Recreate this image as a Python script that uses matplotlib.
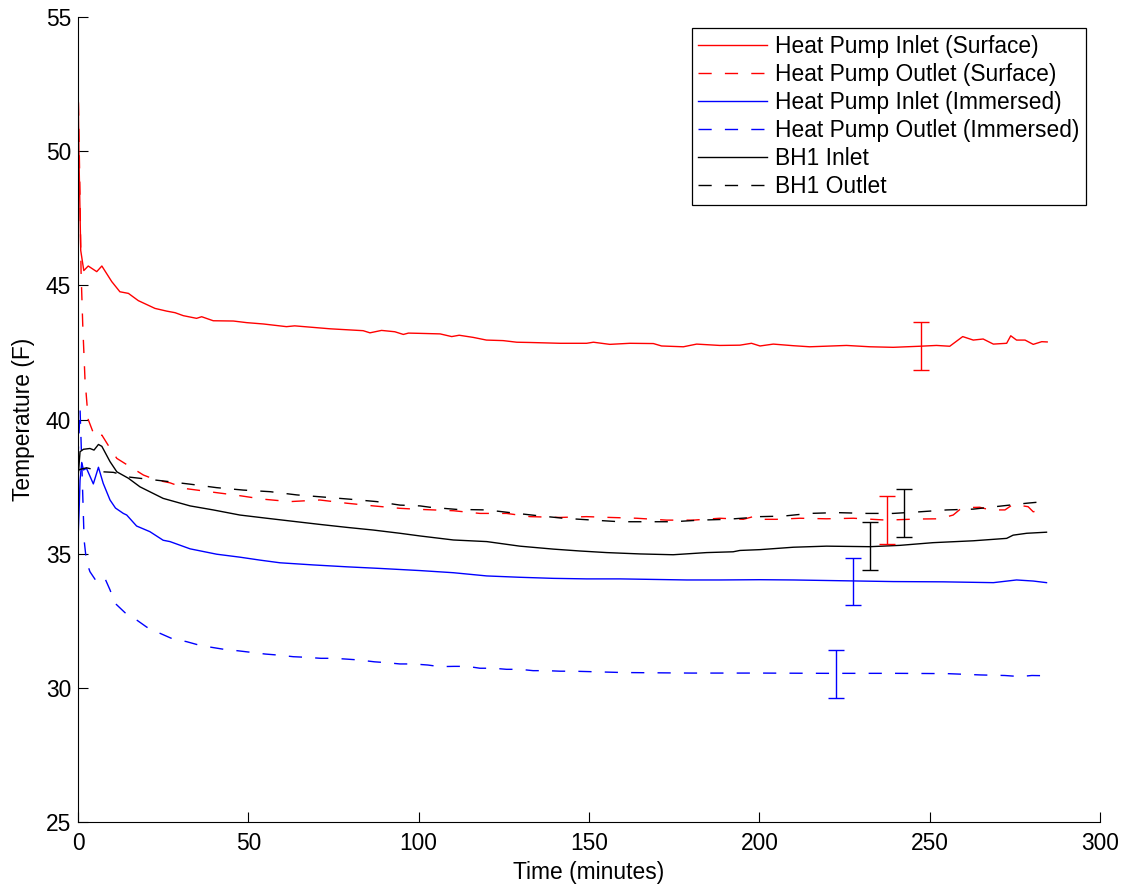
import matplotlib
matplotlib.use("Agg")
import matplotlib.pyplot as plt

plt.rcParams['font.family'] = ['Liberation Sans', 'DejaVu Sans']

# ---- data (time in minutes, temperature in F) ----
hp_in_surf = [(0,52.8),(0.3,49.7),(0.8,46.3),(1.7,45.55),(3.0,45.72),(5.5,45.51),(7.0,45.72),(9.9,45.14),
    (12.3,44.76),(14.8,44.70),(17.7,44.43),(22.6,44.14),(26.0,44.04),(28.5,43.98),(30.9,43.87),(34.8,43.77),
    (36.3,43.83),(39.7,43.68),(45.6,43.67),(49.5,43.61),(54.4,43.56),(61.2,43.46),(63.6,43.49),(74.0,43.38),
    (83.7,43.31),(85.7,43.23),(89.1,43.32),(93.0,43.27),(95.5,43.17),(97.0,43.22),(100.4,43.21),(106.3,43.19),
    (109.7,43.09),(111.9,43.14),(116.0,43.06),(119.9,42.96),(124.8,42.94),(128.8,42.88),(132.7,42.87),
    (141.5,42.84),(149.3,42.84),(151.3,42.88),(156.1,42.80),(162.0,42.84),(168.9,42.83),(171.3,42.74),
    (177.7,42.71),(181.6,42.81),(188.4,42.76),(194.3,42.77),(197.7,42.84),(200.2,42.74),(204.1,42.81),
    (210.0,42.75),(214.8,42.71),(225.6,42.76),(232.5,42.71),(239.3,42.69),(247.1,42.73),(252.0,42.76),
    (255.9,42.73),(259.7,43.09),(262.8,42.96),(265.7,43.0),(268.7,42.81),(272.6,42.84),(273.8,43.12),
    (275.5,42.96),(278.0,42.96),(280.4,42.80),(282.9,42.90),(284.5,42.89)]

hp_out_surf = [(0,52.8),(0.5,49.0),(0.9,45.5),(1.4,43.5),(2.05,41.5),(3.0,40.0),(4.5,39.5),(6.0,39.3),
    (7.0,39.42),(9.4,38.93),(11.4,38.55),(15.3,38.24),(19.2,37.93),(23.1,37.74),(27.0,37.64),(31.9,37.42),
    (39.7,37.29),(47.0,37.17),(54.4,37.03),(62.2,36.94),(71.0,37.0),(78.9,36.88),(86.7,36.78),(94.5,36.69),
    (100.4,36.65),(110.2,36.60),(118.0,36.50),(125.8,36.50),(132.7,36.38),(141.5,36.35),(149.3,36.38),
    (156.1,36.35),(164.0,36.32),(172.8,36.25),(180.6,36.25),(188.4,36.32),(195.3,36.28),(198.2,36.38),
    (200.2,36.28),(205.1,36.28),(211.9,36.32),(219.7,36.30),(227.6,36.32),(237.4,36.25),(246.1,36.29),
    (253.0,36.30),(256.9,36.44),(258.9,36.65),(262.0,36.72),(264.7,36.73),(267.7,36.63),(272.1,36.63),
    (274.5,36.84),(278.9,36.75),(280.4,36.56),(282.4,36.63),(284.5,36.60)]

hp_in_imm = [(0,35.5),(0.3,36.5),(0.6,37.74),(1.1,38.4),(1.6,38.12),(2.5,38.18),(4.5,37.6),(6.0,38.22),
    (7.4,37.62),(9.4,37.0),(11.0,36.7),(13.3,36.5),(14.3,36.44),(17.2,36.03),(21.1,35.82),(25.0,35.5),
    (27.0,35.45),(32.9,35.18),(40.7,34.98),(47.5,34.87),(53.4,34.76),(59.3,34.66),(69.1,34.58),(78.9,34.51),
    (88.6,34.45),(100.4,34.37),(110.2,34.29),(120.0,34.17),(129.7,34.12),(139.5,34.08),(149.3,34.06),
    (159.1,34.06),(168.9,34.04),(178.7,34.02),(188.4,34.02),(200.2,34.03),(210.0,34.02),(224.6,33.99),
    (239.3,33.96),(254.0,33.95),(268.7,33.92),(275.5,34.02),(280.4,33.98),(284.3,33.92)]

hp_out_imm = [(0,38.5),(0.6,40.4),(1.2,38.0),(1.8,35.5),(2.5,34.7),(3.5,34.33),(5.5,33.95),(7.9,34.08),
    (9.4,33.65),(10.9,33.15),(13.8,32.8),(17.2,32.53),(20.2,32.26),(24.1,32.03),(27.5,31.84),(31.9,31.72),
    (35.3,31.6),(39.2,31.51),(43.1,31.43),(47.0,31.38),(51.0,31.32),(54.9,31.26),(58.8,31.22),(63.2,31.16),
    (66.6,31.14),(71.3,31.10),(75.2,31.10),(78.9,31.07),(82.3,31.04),(87.0,30.97),(90.3,30.94),(94.5,30.89),
    (98.4,30.89),(102.7,30.85),(106.2,30.79),(110.4,30.80),(114.3,30.80),(118.0,30.73),(121.9,30.73),
    (125.8,30.69),(129.7,30.69),(133.6,30.64),(137.6,30.64),(141.5,30.62),(145.4,30.62),(160,30.57),
    (180,30.55),(200,30.55),(220,30.54),(240,30.54),(255,30.53),(265,30.48),(272,30.46),(276.5,30.42),
    (280,30.46),(284.5,30.45)]

bh1_in = [(0,37.8),(0.6,38.8),(1.6,38.89),(3.5,38.92),(4.7,38.86),(6.0,39.07),(7.0,39.0),(9.4,38.43),
    (11.4,38.05),(14.8,37.81),(18.2,37.49),(25.0,37.06),(32.9,36.78),(39.7,36.63),(47.5,36.44),(55.4,36.32),
    (64.2,36.19),(71.0,36.09),(78.9,35.98),(86.7,35.88),(94.5,35.76),(100.4,35.66),(110.2,35.51),
    (120.0,35.45),(129.7,35.28),(139.5,35.17),(147.3,35.10),(155.2,35.04),(165.0,34.99),(174.7,34.96),
    (184.5,35.04),(192.3,35.07),(194.3,35.12),(200.2,35.15),(210.0,35.24),(219.7,35.28),(232.5,35.26),
    (241.3,35.31),(251.0,35.41),(262.8,35.48),(272.6,35.57),(274.5,35.69),(278.5,35.76),(284.3,35.80)]

bh1_out = [(0,38.1),(0.6,38.14),(2.5,38.2),(7.4,38.05),(10.4,38.03),(15.3,37.85),(25.0,37.71),(32.9,37.59),
    (40.7,37.46),(48.5,37.37),(56.4,37.31),(64.2,37.19),(71.0,37.12),(79.8,37.03),(87.7,36.94),(94.5,36.81),
    (100.4,36.78),(103.3,36.73),(111.1,36.65),(120.0,36.63),(126.8,36.53),(134.6,36.42),(142.5,36.32),
    (151.2,36.25),(159.1,36.19),(166.9,36.19),(174.7,36.19),(182.6,36.25),(190.4,36.28),(198.2,36.35),
    (200.2,36.38),(207.0,36.40),(214.8,36.50),(222.7,36.53),(231.5,36.50),(239.3,36.50),(247.1,36.56),
    (255.0,36.63),(262.8,36.66),(270.6,36.77),(278.5,36.88),(284.5,36.95)]

series_labels = ["Heat Pump Inlet (Surface)", "Heat Pump Outlet (Surface)",
                 "Heat Pump Inlet (Immersed)", "Heat Pump Outlet (Immersed)",
                 "BH1 Inlet", "BH1 Outlet"]

# error bars: time, centre, half-width
err_t = [247.5, 237.5, 227.5, 222.5, 232.5, 242.5]
err_v = [42.73, 36.26, 33.96, 30.52, 35.28, 36.52]
err_h = [0.89, 0.89, 0.89, 0.89, 0.89, 0.89]

x_ticks = [0, 50, 100, 150, 200, 250, 300]
y_ticks = [25, 30, 35, 40, 45, 50, 55]

# ---- plotting ----
series = [hp_in_surf, hp_out_surf, hp_in_imm, hp_out_imm, bh1_in, bh1_out]
colors = ['#ff0000', '#ff0000', '#0000ff', '#0000ff', '#000000', '#000000']
dashed = (0, (9.5, 9.5))
styles = ['-', dashed, '-', dashed, '-', dashed]

fig = plt.figure(figsize=(11.26, 8.85), dpi=100)
ax = fig.add_axes([78/1126, 1 - 822/885, (1100-78)/1126, (822-17)/885])

lw = 1.0
for data, c, ls, lab in zip(series, colors, styles, series_labels):
    t = [p[0] for p in data]
    v = [p[1] for p in data]
    ax.plot(t, v, color=c, linestyle=ls, linewidth=lw, label=lab)

for t, v, h, c in zip(err_t, err_v, err_h, colors):
    ax.errorbar([t], [v], yerr=[h], fmt='none', ecolor=c, elinewidth=lw,
                capsize=5.8, capthick=lw)

ax.set_xlim(0, 300)
ax.set_ylim(25, 55)
ax.set_xticks(x_ticks)
ax.set_yticks(y_ticks)
fs = 16.4
ax.tick_params(direction='in', length=7, width=0.8, labelsize=fs, top=False, right=False)
ax.tick_params(axis='y', pad=5)
ax.tick_params(axis='x', pad=7)
for s in ['top', 'right']:
    ax.spines[s].set_visible(False)
for s in ['left', 'bottom']:
    ax.spines[s].set_linewidth(0.8)

ax.set_xlabel("Time (minutes)", fontsize=fs, labelpad=4.5)
ax.set_ylabel("Temperature (F)", fontsize=fs, labelpad=8)

leg = ax.legend(loc='upper right', bbox_to_anchor=(0.9863, 0.9863), borderaxespad=0,
                fontsize=fs, frameon=True, fancybox=False, framealpha=1, edgecolor='black',
                handlelength=3.0, handletextpad=0.35, labelspacing=0.22, borderpad=0.3)
leg.get_frame().set_linewidth(0.9)

fig.savefig("out.png", dpi=100)
